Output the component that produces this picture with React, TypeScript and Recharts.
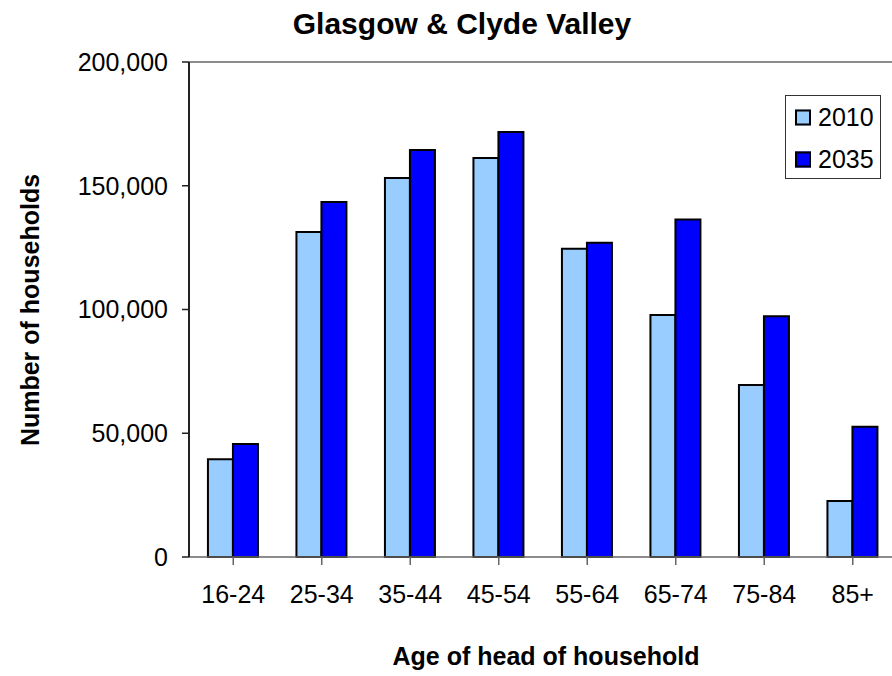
import React from 'react';
import { BarChart, Bar, XAxis, YAxis, Legend, ReferenceLine } from 'recharts';

const categories = ['16-24', '25-34', '35-44', '45-54', '55-64', '65-74', '75-84', '85+'];
const values2010 = [39500, 131300, 153100, 161200, 124500, 97800, 69500, 22600];
const values2035 = [45700, 143400, 164400, 171700, 127000, 136400, 97300, 52600];
const yTicks = [0, 50000, 100000, 150000, 200000];
const seriesNames = ['2010', '2035'];
const seriesColors = ['#99CCFF', '#0000FF'];

const data = categories.map((c, i) => ({ cat: c, y2010: values2010[i], y2035: values2035[i] }));

const FONT = '"Liberation Sans", Arial, Helvetica, sans-serif';

const LegendBox = () => (
  <div
    style={{
      width: 94,
      height: 82,
      border: '1px solid #333',
      background: '#fff',
      fontFamily: FONT,
      fontSize: 25,
      color: '#000',
      position: 'relative',
    }}
  >
    {seriesNames.map((n, i) => (
      <div
        key={n}
        style={{
          position: 'absolute',
          left: 9,
          top: 21 + i * 42,
          transform: 'translateY(-50%)',
          display: 'flex',
          alignItems: 'center',
          lineHeight: 1,
        }}
      >
        <span
          style={{
            display: 'inline-block',
            width: 12,
            height: 12,
            background: seriesColors[i],
            border: '2px solid #000',
            marginRight: 7,
          }}
        />
        <span>{n}</span>
      </div>
    ))}
  </div>
);

export default function App() {
  return (
    <div
      style={{
        position: 'fixed',
        left: 0,
        top: 0,
        width: 892,
        height: 676,
        overflow: 'hidden',
        background: '#fff',
        fontFamily: FONT,
      }}
    >
      <BarChart
        width={897}
        height={676}
        data={data}
        margin={{ top: 62, right: 0, bottom: 0, left: 0 }}
        barCategoryGap="21.4%"
        barGap={0}
      >
        <ReferenceLine y={200000} stroke="#8c8c8c" strokeWidth={2} ifOverflow="extendDomain" />
        <XAxis
          dataKey="cat"
          height={119}
          tickSize={8}
          tickMargin={20}
          interval={0}
          stroke="#666"
          strokeWidth={1.5}
          tick={{ fill: '#000', fontSize: 25, fontFamily: FONT }}
          tickLine={{ stroke: '#666', strokeWidth: 1.5 }}
        />
        <YAxis
          width={189}
          domain={[0, 200000]}
          ticks={yTicks}
          tickSize={7}
          tickMargin={14}
          stroke="#222"
          strokeWidth={2}
          tickFormatter={(v: number) => v.toLocaleString('en-US')}
          tick={{ fill: '#000', fontSize: 25, fontFamily: FONT }}
          tickLine={{ stroke: '#222', strokeWidth: 1.5 }}
        />
        <Legend
          layout="vertical"
          align="center"
          verticalAlign="middle"
          content={() => <LegendBox />}
          wrapperStyle={{ position: 'absolute', left: 785, top: 95, width: 96, height: 84 }}
        />
        <Bar dataKey="y2010" name="2010" fill={seriesColors[0]} stroke="#000" strokeWidth={2} isAnimationActive={false} />
        <Bar dataKey="y2035" name="2035" fill={seriesColors[1]} stroke="#000" strokeWidth={2} isAnimationActive={false} />
      </BarChart>

      <div
        style={{
          position: 'absolute',
          left: 462,
          top: 24,
          transform: 'translate(-50%, -50%)',
          fontSize: 30,
          fontWeight: 'bold',
          lineHeight: 1,
          whiteSpace: 'nowrap',
          color: '#000',
        }}
      >
        Glasgow &amp; Clyde Valley
      </div>
      <div
        style={{
          position: 'absolute',
          left: 546,
          top: 656,
          transform: 'translate(-50%, -50%)',
          fontSize: 25,
          fontWeight: 'bold',
          lineHeight: 1,
          whiteSpace: 'nowrap',
          color: '#000',
        }}
      >
        Age of head of household
      </div>
      <div
        style={{
          position: 'absolute',
          left: 30,
          top: 310,
          transform: 'translate(-50%, -50%) rotate(-90deg)',
          fontSize: 25,
          fontWeight: 'bold',
          lineHeight: 1,
          whiteSpace: 'nowrap',
          color: '#000',
        }}
      >
        Number of households
      </div>
    </div>
  );
}
